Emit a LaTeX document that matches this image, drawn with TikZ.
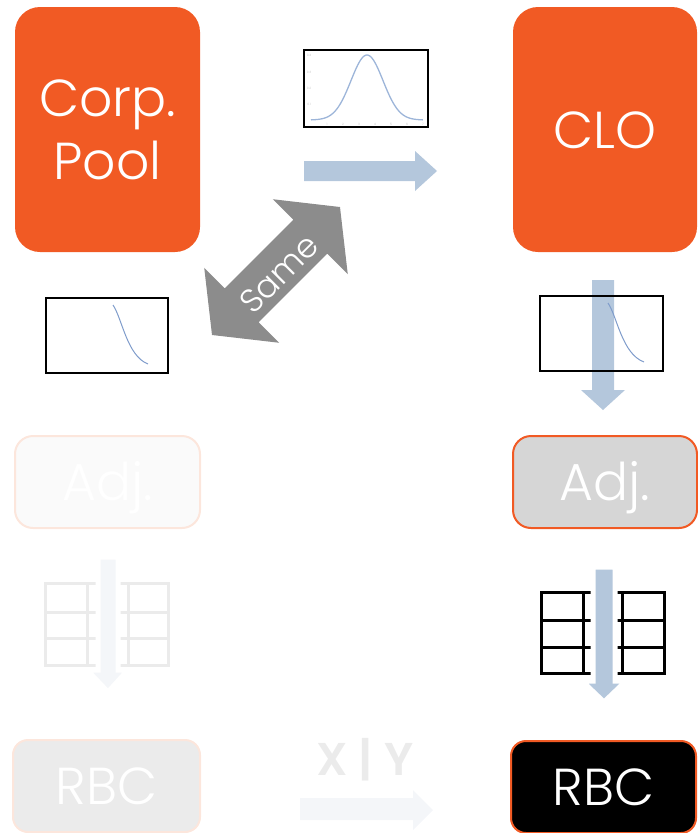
\documentclass[tikz,border=0pt]{standalone}
\usepackage{fontspec}
\setmainfont{Poppins}[UprightFont={* Light}, BoldFont={* SemiBold}]
\usepackage{tikz}
\usetikzlibrary{positioning}

\definecolor{corange}{HTML}{F15A24}
\definecolor{arrowblue}{HTML}{B4C7DC}
\definecolor{samegray}{HTML}{8C8C8C}
\definecolor{adjgray}{HTML}{D6D6D6}
\definecolor{fadeorange}{HTML}{FCE6DC}
\definecolor{fadegray}{HTML}{EBEBEB}
\definecolor{fadefill}{HTML}{FAFAFA}
\definecolor{fadeblue}{HTML}{F4F6F9}
\definecolor{curveblue}{HTML}{7F9CCB}
\definecolor{gaussblue}{HTML}{9DB5D9}

\begin{document}
\begin{tikzpicture}[x=1pt, y=-1pt,
    box/.style={rectangle, inner sep=0pt, text=white, align=center,
        font=\fontsize{52}{63}\selectfont},
    plotbox/.style={rectangle, draw=black, line width=2pt, inner sep=0pt,
        minimum width=122pt, minimum height=75pt},
    tick/.style={text=gray!60, inner sep=0pt, font=\fontsize{3}{3}\selectfont}]
    \useasboundingbox (0,0) rectangle (697,833);
    %top row
    \node[box, fill=corange, rounded corners=25pt, minimum width=185pt, minimum height=245pt] (corp) at (107.5,129.5){Corp.\\Pool};
    \node[box, fill=corange, rounded corners=25pt, minimum width=184pt, minimum height=245pt, text height=37pt, text depth=0pt] (clo) at (605,129.5){CLO};
    \node[plotbox, minimum width=124pt, minimum height=77pt] (gauss) at (366,88.5){};
    \draw[gaussblue, line width=1.3pt] plot[domain=0:7, samples=80, smooth] ({311+16*\x},{120-65*exp(-0.5*(\x-3.5)^2)});
    \foreach \v/\y in {0.4/55,0.3/72,0.2/88,0.1/104}
        \node[tick] at (309,\y){\v};
    \foreach \v in {1,...,7}
        \node[tick] at ({311+16*\v},124){\v};
    \fill[arrowblue] (304,161) -- (415,161) -- (415,151) -- (437,171) -- (415,191) -- (415,181) -- (304,181) -- cycle;
    %same arrow
    \begin{scope}[shift={(276,271)}, rotate=45]
        \fill[samegray] (-90.5,0) -- (-48.5,53) -- (-48.5,24) -- (48.5,24) -- (48.5,53) -- (90.5,0) -- (48.5,-53) -- (48.5,-24) -- (-48.5,-24) -- (-48.5,-53) -- cycle;
        \node[transform shape, text=white, inner sep=0pt, font=\fontsize{33}{33}\selectfont] (same) at (0,4){Same};
    \end{scope}
    %curves
    \node[plotbox] (lplot) at (107,335.5){};
    \draw[curveblue, line width=1pt] (113,305) .. controls (122,318) and (127,356) .. (148,364);
    \fill[arrowblue] (592,280) -- (614,280) -- (614,390) -- (625,390) -- (603,410) -- (581,390) -- (592,390) -- cycle;
    \node[plotbox, minimum width=123pt] (rplot) at (601.5,333.5){};
    \draw[curveblue, line width=1pt] (608,303) .. controls (617,316) and (622,354) .. (644,362);
    %adj
    \node[box, fill=fadefill, draw=fadeorange, line width=2pt, rounded corners=18pt, minimum width=185pt, minimum height=92pt, text height=37pt, text depth=0pt] (ladj) at (107.5,482){Adj.};
    \node[box, fill=adjgray, draw=corange, line width=2pt, rounded corners=18pt, minimum width=184pt, minimum height=92pt, text height=37pt, text depth=0pt] (radj) at (605,482){Adj.};
    %tables
    \foreach \y in {583,612,638,665}
        \draw[fadegray, line width=3pt, line cap=rect] (45,\y) -- (168,\y);
    \foreach \x in {45,87,128,168}
        \draw[fadegray, line width=3pt, line cap=rect] (\x,583) -- (\x,665);
    \filldraw[fadeblue, draw=white, line width=5pt] (98,557) -- (118,557) -- (118,670) -- (128,670) -- (108,692) -- (87,670) -- (98,670) -- cycle;
    \foreach \y in {592,620,647,673}
        \draw[line width=3pt, line cap=rect] (541,\y) -- (664,\y);
    \foreach \x in {541,583,622,664}
        \draw[line width=3pt, line cap=rect] (\x,592) -- (\x,673);
    \filldraw[arrowblue, draw=white, line width=5pt] (593,567) -- (615,567) -- (615,681) -- (626,681) -- (604,702) -- (582,681) -- (593,681) -- cycle;
    %rbc
    \node[box, fill=fadegray, draw=fadeorange, line width=2pt, rounded corners=15pt, minimum width=187pt, minimum height=92pt, text height=37pt, text depth=0pt] (lrbc) at (106.5,786){RBC};
    \node[box, fill=black, draw=corange, line width=2pt, rounded corners=15pt, minimum width=185pt, minimum height=92pt, text height=37pt, text depth=0pt] (rrbc) at (603.5,787){RBC};
    \node[text=fadegray, inner sep=0pt, text height=33pt, text depth=0pt, font=\bfseries\fontsize{46}{46}\selectfont] (xy) at (365,758.5){X | Y};
    \fill[fadeblue] (300,798) -- (413,798) -- (413,790) -- (433,810) -- (413,830) -- (413,820) -- (300,820) -- cycle;
\end{tikzpicture}
\end{document}
